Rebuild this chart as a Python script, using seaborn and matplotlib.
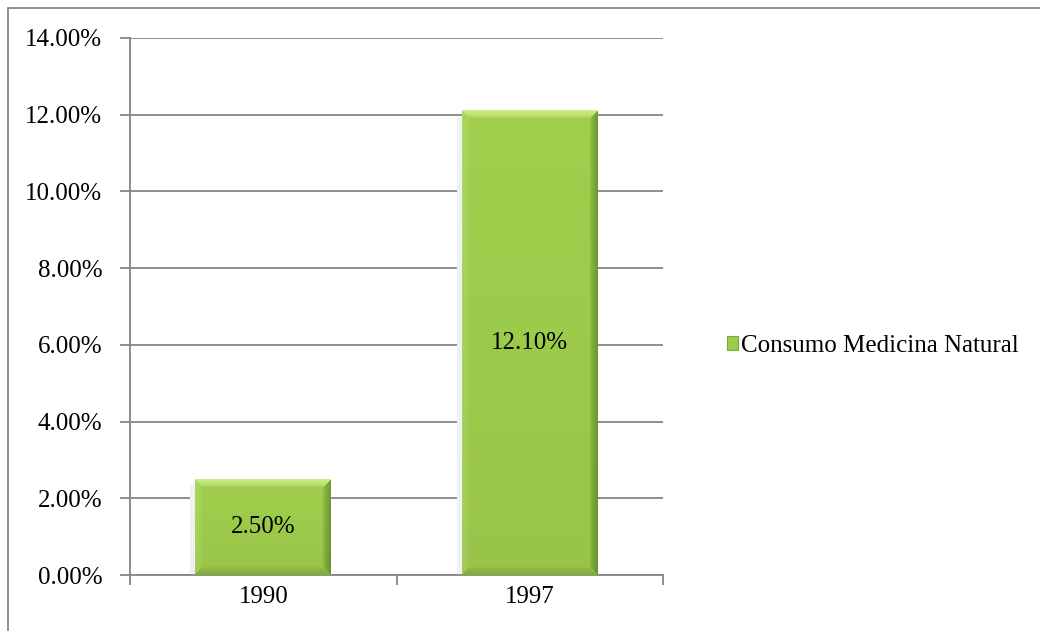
import numpy as np
import pandas as pd
import matplotlib
matplotlib.use("Agg")
import matplotlib.pyplot as plt
from matplotlib.patches import Rectangle
from matplotlib.ticker import FuncFormatter
import seaborn as sns

# Data
years = ["1990", "1997"]
values = [2.5, 12.1]
series_name = "Consumo Medicina Natural"
y_ticks = [0, 2, 4, 6, 8, 10, 12, 14]

sns.set_style("white")
plt.rcParams["font.family"] = ["Liberation Serif", "DejaVu Serif"]
plt.rcParams["text.color"] = "black"
plt.rcParams["xtick.labelcolor"] = "black"
plt.rcParams["ytick.labelcolor"] = "black"

GRAY = "#868686"
FS = 18
BASE = np.array([0x9D, 0xCB, 0x4B]) / 255.0
TOP = np.array([0xC8, 0xE8, 0x84]) / 255.0
BOTTOM = np.array([0x86, 0xB2, 0x3C]) / 255.0
RIGHT = np.array([0x6E, 0x98, 0x30]) / 255.0
LEFT = np.array([0xA9, 0xD3, 0x5E]) / 255.0

W, H, DPI = 1040, 631, 100
fig = plt.figure(figsize=(W / DPI, H / DPI), dpi=DPI)
ax = fig.add_axes([130 / W, (H - 575) / H, (663 - 130) / W, (575 - 38) / H])

df = pd.DataFrame({"year": years, "value": values})
sns.barplot(data=df, x="year", y="value", width=0.51, color="#9DCB4B",
            saturation=1, ax=ax, zorder=3, edgecolor="none")

ax.set_xlim(-0.5, 1.5)
ax.set_ylim(0, 14)
ax.set_yticks(y_ticks)
ax.yaxis.set_major_formatter(FuncFormatter(lambda v, _: f"{v:.2f}%"))
ax.set_xlabel("")
ax.set_ylabel("")

# horizontal gridlines
ax.yaxis.grid(True, color=GRAY, lw=1.3, zorder=0)
ax.set_axisbelow(True)
for side in ("top", "right"):
    ax.spines[side].set_visible(False)
for side in ("left", "bottom"):
    ax.spines[side].set_color(GRAY)
    ax.spines[side].set_linewidth(1.3)

ax.tick_params(axis="y", which="major", length=7, width=1.3, color=GRAY,
               labelsize=FS, pad=13, direction="out", left=True)
ax.tick_params(axis="x", which="major", length=0, labelsize=FS, pad=8)
ax.set_xticks([-0.5, 0.5, 1.5], minor=True)
ax.tick_params(axis="x", which="minor", length=7, width=1.3, color=GRAY,
               direction="out", bottom=True)

fig.canvas.draw()


def bevel_image(wpx, hpx, b=8):
    """RGB array for a bevelled bar face of wpx x hpx pixels."""
    wpx, hpx = max(int(round(wpx)), 2), max(int(round(hpx)), 2)
    xs = np.arange(wpx)[None, :].repeat(hpx, 0)
    ys = np.arange(hpx)[:, None].repeat(wpx, 1)
    d_left, d_right = xs, wpx - 1 - xs
    d_top, d_bot = ys, hpx - 1 - ys
    img = np.empty((hpx, wpx, 3))
    img[:] = BASE
    dists = np.stack([d_top, d_bot, d_left, d_right])
    nearest = np.argmin(dists, axis=0)
    dmin = np.min(dists, axis=0)
    cols = [TOP, BOTTOM, LEFT, RIGHT]
    for i, c in enumerate(cols):
        m = (nearest == i) & (dmin < b)
        t = (1 - dmin[m] / b)[:, None] ** 0.6
        img[m] = BASE * (1 - t) + c * t
    # slight vertical shading across the face
    shade = np.linspace(1.02, 0.97, hpx)[:, None, None]
    return np.clip(img * shade, 0, 1)


inv = ax.transData.inverted()
for patch, val in zip(ax.patches, values):
    bb = patch.get_window_extent()
    x0, y0 = patch.get_x(), patch.get_y()
    w, h = patch.get_width(), patch.get_height()
    # soft drop shadow to the left
    (sx0, sy0) = inv.transform((bb.x0 - 5, bb.y0 - 3))
    (sx1, sy1) = inv.transform((bb.x1 - 2, bb.y1 - 6))
    ax.add_patch(Rectangle((sx0, max(sy0, 0)), sx1 - sx0, sy1 - max(sy0, 0),
                           facecolor="#f1f1f1", edgecolor="none", zorder=2,
                           clip_on=False))
    img = bevel_image(bb.width, bb.height)
    ax.imshow(img, extent=(x0, x0 + w, y0, y0 + h), aspect="auto",
              origin="upper", zorder=4, interpolation="bilinear")
    ax.text(x0 + w / 2, y0 + h / 2, f"{val:.2f}%", ha="center", va="center",
            fontsize=FS, color="black", zorder=5)

ax.set_xlim(-0.5, 1.5)
ax.set_ylim(0, 14)

# legend
handle = Rectangle((0, 0), 1, 1, facecolor="#9DCB4B", edgecolor="#7FA83A", lw=0.8)
fig.legend([handle], [series_name], loc="center left",
           bbox_to_anchor=(727 / W, (H - 346) / H), frameon=False,
           fontsize=FS, handlelength=0.45, handleheight=0.45, handletextpad=0.12,
           borderaxespad=0, borderpad=0)

# outer chart border (top and left edges visible)
fig.add_artist(Rectangle((8 / W, -0.05), 1.2, (H - 8) / H + 0.05,
                         transform=fig.transFigure, fill=False,
                         edgecolor=GRAY, lw=1.3))

fig.savefig("out.png", dpi=DPI, facecolor="white")
